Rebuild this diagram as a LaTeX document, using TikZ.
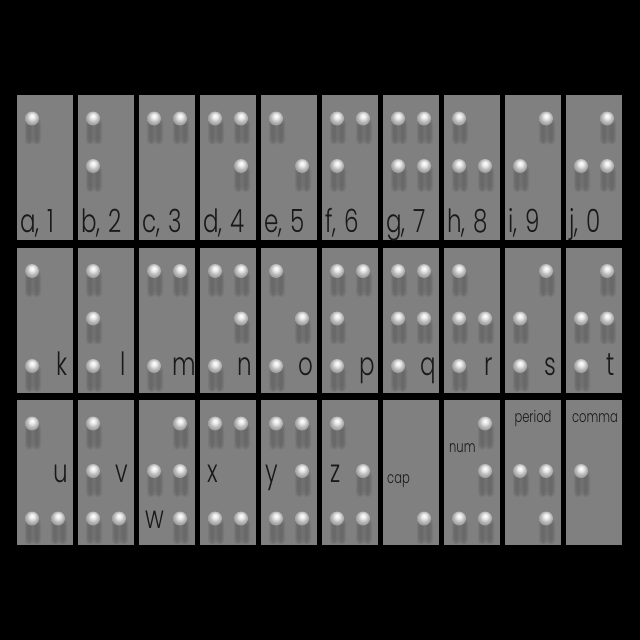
\documentclass[tikz,border=0pt]{standalone}
\usepackage{fontspec}
\newfontfamily\labfont{Poppins Light}
\pgfdeclareradialshading{pinshade}{\pgfpoint{0bp}{10bp}}{color(0bp)=(white); color(8bp)=(white!93!black); color(19bp)=(black!28); color(34bp)=(black!48); color(45bp)=(black!62); color(50bp)=(black!72)}
\tikzset{
  cellbox/.style={rectangle, fill=black!50, draw=none, minimum width=56pt, minimum height=145pt, inner sep=0pt},
  pin/.style={circle, minimum size=14pt, inner sep=0pt, shading=pinshade},
  pinshadow/.style={fill=black, opacity=0.06, rounded corners=4pt},
  biglab/.style={font=\labfont\fontsize{32}{36}\selectfont, text=black!90, inner sep=0pt},
  smalllab/.style={font=\labfont\fontsize{16}{18}\selectfont, text=black!90, inner sep=0pt}
}
% name, column, row, dots
\newcommand\brcell[4]{%
  \node[cellbox] (cell-#1) at ({17+61*#2+28},{95+152.5*#3+72.5}) {};
  \foreach \d in {#4}{%
    \pgfmathsetmacro\px{17+61*#2+15+26*(\d>3)}%
    \pgfmathsetmacro\py{95+152.5*#3+23.5+47.5*mod(\d-1,3)}%
    \foreach \g in {0,1.2,2.4}{%
      \fill[pinshadow] (\px-7+\g,\py+\g) rectangle (\px+1.5-\g,\py+26-\g);
      \fill[pinshadow] (\px+0.5+\g,\py+\g) rectangle (\px+9-\g,\py+26-\g);
    }
    \node[pin] (cell-#1-\d) at (\px,\py) {};
  }%
}
\newcommand\sq[1]{\scalebox{0.72}[1]{#1}}
\newcommand\gap{\hspace*{11pt}}
\begin{document}
\begin{tikzpicture}[x=1pt,y=-1pt]
\useasboundingbox (0,0) rectangle (640,640);
\fill[black] (0,0) rectangle (640,640);
% row 1
\brcell{a}{0}{0}{1}
\brcell{b}{1}{0}{1,2}
\brcell{c}{2}{0}{1,4}
\brcell{d}{3}{0}{1,4,5}
\brcell{e}{4}{0}{1,5}
\brcell{f}{5}{0}{1,2,4}
\brcell{g}{6}{0}{1,2,4,5}
\brcell{h}{7}{0}{1,2,5}
\brcell{i}{8}{0}{2,4}
\brcell{j}{9}{0}{2,4,5}
% row 2
\brcell{k}{0}{1}{1,3}
\brcell{l}{1}{1}{1,2,3}
\brcell{m}{2}{1}{1,3,4}
\brcell{n}{3}{1}{1,3,4,5}
\brcell{o}{4}{1}{1,3,5}
\brcell{p}{5}{1}{1,2,3,4}
\brcell{q}{6}{1}{1,2,3,4,5}
\brcell{r}{7}{1}{1,2,3,5}
\brcell{s}{8}{1}{2,3,4}
\brcell{t}{9}{1}{2,3,4,5}
% row 3
\brcell{u}{0}{2}{1,3,6}
\brcell{v}{1}{2}{1,2,3,6}
\brcell{w}{2}{2}{2,4,5,6}
\brcell{x}{3}{2}{1,3,4,6}
\brcell{y}{4}{2}{1,3,4,5,6}
\brcell{z}{5}{2}{1,3,5,6}
\brcell{cap}{6}{2}{6}
\brcell{num}{7}{2}{3,4,5,6}
\brcell{period}{8}{2}{2,5,6}
\brcell{comma}{9}{2}{2}
% row 1 labels
\node[biglab, anchor=base west] (lab-a) at (20,232) {\sq{a,\gap 1}};
\node[biglab, anchor=base west] (lab-b) at (81,232) {\sq{b,\gap 2}};
\node[biglab, anchor=base west] (lab-c) at (142,232) {\sq{c,\gap 3}};
\node[biglab, anchor=base west] (lab-d) at (203,232) {\sq{d,\gap 4}};
\node[biglab, anchor=base west] (lab-e) at (264,232) {\sq{e,\gap 5}};
\node[biglab, anchor=base west] (lab-f) at (325,232) {\sq{f,\gap 6}};
\node[biglab, anchor=base west] (lab-g) at (386,232) {\sq{g,\gap 7}};
\node[biglab, anchor=base west] (lab-h) at (447,232) {\sq{h,\gap 8}};
\node[biglab, anchor=base west] (lab-i) at (508,232) {\sq{i,\gap 9}};
\node[biglab, anchor=base west] (lab-j) at (569,232) {\sq{j,\gap 0}};
% row 2 labels
\node[biglab, anchor=base] (lab-k) at (62,375) {\sq{k}};
\node[biglab, anchor=base] (lab-l) at (123,375) {\sq{l}};
\node[biglab, anchor=base] (lab-m) at (184,375) {\sq{m}};
\node[biglab, anchor=base] (lab-n) at (245,375) {\sq{n}};
\node[biglab, anchor=base] (lab-o) at (306,375) {\sq{o}};
\node[biglab, anchor=base] (lab-p) at (367,375) {\sq{p}};
\node[biglab, anchor=base] (lab-q) at (428,375) {\sq{q}};
\node[biglab, anchor=base] (lab-r) at (489,375) {\sq{r}};
\node[biglab, anchor=base] (lab-s) at (550,375) {\sq{s}};
\node[biglab, anchor=base] (lab-t) at (611,375) {\sq{t}};
% row 3 labels
\node[biglab, anchor=base] (lab-u) at (61,482) {\sq{u}};
\node[biglab, anchor=base] (lab-v) at (122,482) {\sq{v}};
\node[biglab, anchor=base] (lab-w) at (155,528) {\sq{w}};
\node[biglab, anchor=base] (lab-x) at (213,482) {\sq{x}};
\node[biglab, anchor=base] (lab-y) at (272,482) {\sq{y}};
\node[biglab, anchor=base] (lab-z) at (336,482) {\sq{z}};
\node[smalllab, anchor=base west] (lab-cap) at (387,483) {\sq{cap}};
\node[smalllab, anchor=base west] (lab-num) at (449,452) {\sq{num}};
\node[smalllab, anchor=base] (lab-period) at (533,422) {\sq{period}};
\node[smalllab, anchor=base] (lab-comma) at (595,422) {\sq{comma}};
\end{tikzpicture}
\end{document}
